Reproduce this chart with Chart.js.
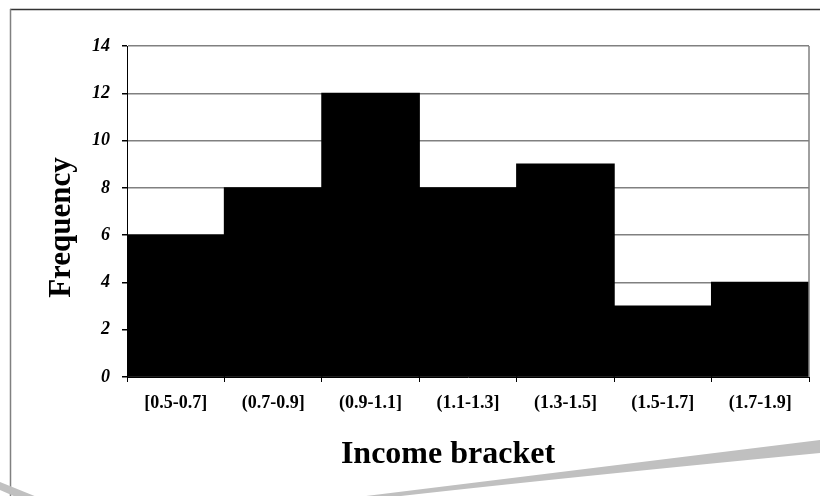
<!DOCTYPE html>
<html>
<head>
<meta charset="utf-8">
<script src="https://cdn.jsdelivr.net/npm/chart.js@4"></script>
<style>
  html, body { margin: 0; padding: 0; background: #fff; }
  #wrap { width: 820px; height: 496px; }
</style>
</head>
<body>
<div id="wrap"><canvas id="histChart" width="820" height="496"></canvas></div>
<script>
const brackets = ['[0.5-0.7]', '(0.7-0.9]', '(0.9-1.1]', '(1.1-1.3]', '(1.3-1.5]', '(1.5-1.7]', '(1.7-1.9]']
const frequency = [6, 8, 12, 8, 9, 3, 4]
const yMin = 0
const yMax = 14
const yStep = 2
const xTitle = 'Income bracket'
const yTitle = 'Frequency'

const serif = "'Liberation Serif', 'Times New Roman', serif"

// axis titles sit a little off-centre in the original, so they are drawn here,
// together with the slide frame and the grey page-curl shadow
const decoration = {
    id: 'decoration',
    afterDraw(chart) {
        const ctx = chart.ctx
        const area = chart.chartArea
        ctx.save()

        // right edge of the plot area
        ctx.strokeStyle = '#808080'
        ctx.lineWidth = 1.5
        ctx.beginPath()
        ctx.moveTo(area.right, area.top)
        ctx.lineTo(area.right, area.bottom)
        ctx.stroke()

        // titles
        ctx.fillStyle = '#000'
        ctx.font = `bold 32px ${serif}`
        ctx.textAlign = 'center'
        ctx.textBaseline = 'alphabetic'
        ctx.fillText(xTitle, (area.left + area.right) / 2 - 20, 463)

        ctx.save()
        ctx.font = `bold 31px ${serif}`
        ctx.translate(70, (area.top + area.bottom) / 2 + 16)
        ctx.rotate(-Math.PI / 2)
        ctx.fillText(yTitle, 0, 0)
        ctx.restore()

        // frame
        ctx.strokeStyle = '#333'
        ctx.lineWidth = 1.5
        ctx.beginPath()
        ctx.moveTo(10, 9.5)
        ctx.lineTo(820, 9.5)
        ctx.stroke()
        ctx.strokeStyle = '#808080'
        ctx.beginPath()
        ctx.moveTo(10.5, 9)
        ctx.lineTo(10.5, 496)
        ctx.stroke()

        // shadow
        ctx.fillStyle = '#c0c0c0'
        ctx.beginPath()
        ctx.moveTo(0, 482)
        ctx.lineTo(37, 497)
        ctx.lineTo(16, 497)
        ctx.lineTo(0, 490)
        ctx.closePath()
        ctx.fill()

        ctx.beginPath()
        ctx.moveTo(358, 497)
        ctx.lineTo(820, 440)
        ctx.lineTo(820, 453)
        ctx.quadraticCurveTo(560, 478, 392, 497)
        ctx.closePath()
        ctx.fill()

        ctx.restore()
    }
}

const ctx = document.getElementById('histChart').getContext('2d')
const myChart = new Chart(ctx, {
    type: 'bar',
    data: {
        labels: brackets,
        datasets: [{
            label: yTitle,
            data: frequency,
            backgroundColor: '#000',
            borderWidth: 0,
            inflateAmount: 0.6,
            barPercentage: 1,
            categoryPercentage: 1
        }]
    },
    options: {
        responsive: false,
        animation: false,
        layout: {
            padding: { top: 46, right: 11, left: 0, bottom: 0 }
        },
        plugins: {
            legend: { display: false },
            tooltip: { enabled: false }
        },
        scales: {
            x: {
                grid: {
                    offset: true,
                    drawOnChartArea: false,
                    tickLength: 5,
                    tickColor: '#000'
                },
                border: { color: '#000', width: 1 },
                ticks: {
                    color: '#000',
                    padding: 11,
                    maxRotation: 0,
                    font: { family: serif, size: 18, weight: 'bold' }
                },
                afterFit: scale => { scale.height = 119 }
            },
            y: {
                min: yMin,
                max: yMax,
                grid: {
                    color: '#808080',
                    lineWidth: 1.5,
                    tickLength: 5,
                    tickColor: '#000'
                },
                border: { color: '#000', width: 1 },
                ticks: {
                    stepSize: yStep,
                    color: '#000',
                    padding: 12,
                    font: { family: serif, size: 18, weight: 'bold', style: 'italic' }
                },
                afterFit: scale => { scale.width = 127 }
            }
        }
    },
    plugins: [decoration]
})
</script>
</body>
</html>
